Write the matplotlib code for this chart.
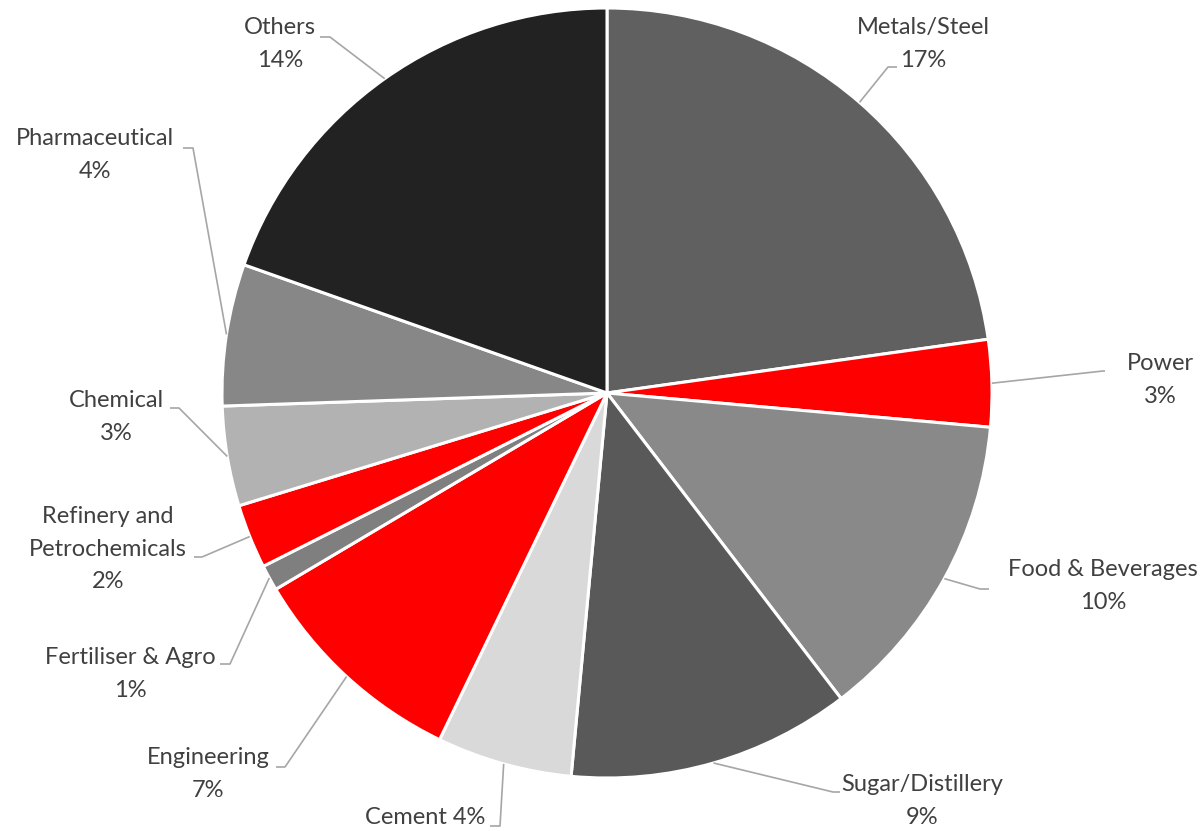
import matplotlib
matplotlib.use("Agg")
import matplotlib.pyplot as plt
import numpy as np

categories = ["Metals/Steel", "Power", "Food & Beverages", "Sugar/Distillery", "Cement",
              "Engineering", "Fertiliser & Agro", "Refinery and\nPetrochemicals", "Chemical",
              "Pharmaceutical", "Others"]
values = [16.85, 2.7, 9.75, 8.8, 4.2, 6.9, 0.8, 2.0, 3.1, 4.4, 14.5]
pct_labels = ["17%", "3%", "10%", "9%", "4%", "7%", "1%", "2%", "3%", "4%", "14%"]
colors = ["#606060", "#FF0000", "#898989", "#595959", "#D9D9D9", "#FF0000", "#7F7F7F",
          "#FF0000", "#B2B2B2", "#878787", "#222222"]

W, H = 1204, 831
CX, CY, R = 607, 393, 385

fig = plt.figure(figsize=(W / 100, H / 100), dpi=100)
ax = fig.add_axes([(CX - R) / W, (H - CY - R) / H, 2 * R / W, 2 * R / H])
ax.axis("off")

wedges, _ = ax.pie(values, colors=colors, startangle=90, counterclock=False, radius=1,
                   center=(0, 0), wedgeprops=dict(edgecolor="white", linewidth=2.2))
ax.set_xlim(-1, 1)
ax.set_ylim(-1, 1)


def px(x, y):
    return ((x - CX) / R, (CY - y) / R)


# layout: (bend point, horizontal end point, text center) in pixels
bends = [(888, 67), (1103, 371), (980, 589), (833, 792), (500, 826), (285, 767),
         (230, 664), (202, 557), (179, 408), (193, 148), (330, 37)]
ends = [(897, 67), (1105, 371), (989, 589), (840, 792), (490, 826), (276, 767),
        (220, 664), (194, 557), (170, 408), (183, 148), (320, 37)]
text_pos = [(923, 44), (1160, 380), (1103, 586), (922, 801), (425, 818), (208, 774),
            (130, 674), (108, 549), (116, 417), (95, 155), (280, 44)]

txt_color = "#404040"
line_color = "#A6A6A6"
for i, w in enumerate(wedges):
    mid = np.deg2rad((w.theta1 + w.theta2) / 2)
    ex, ey = np.cos(mid), np.sin(mid)
    bx, by = px(*bends[i])
    hx, hy = px(*ends[i])
    ax.plot([ex, bx, hx], [ey, by, hy], color=line_color, lw=1.2, clip_on=False,
            solid_capstyle="butt")
    tx, ty = px(*text_pos[i])
    if categories[i] == "Cement":
        label = categories[i] + " " + pct_labels[i]
    else:
        label = categories[i] + "\n" + pct_labels[i]
    ax.text(tx, ty, label, ha="center", va="center", fontsize=17, color=txt_color,
            family="Lato", linespacing=1.68, clip_on=False)

fig.savefig("out.png", dpi=100, facecolor="white")
